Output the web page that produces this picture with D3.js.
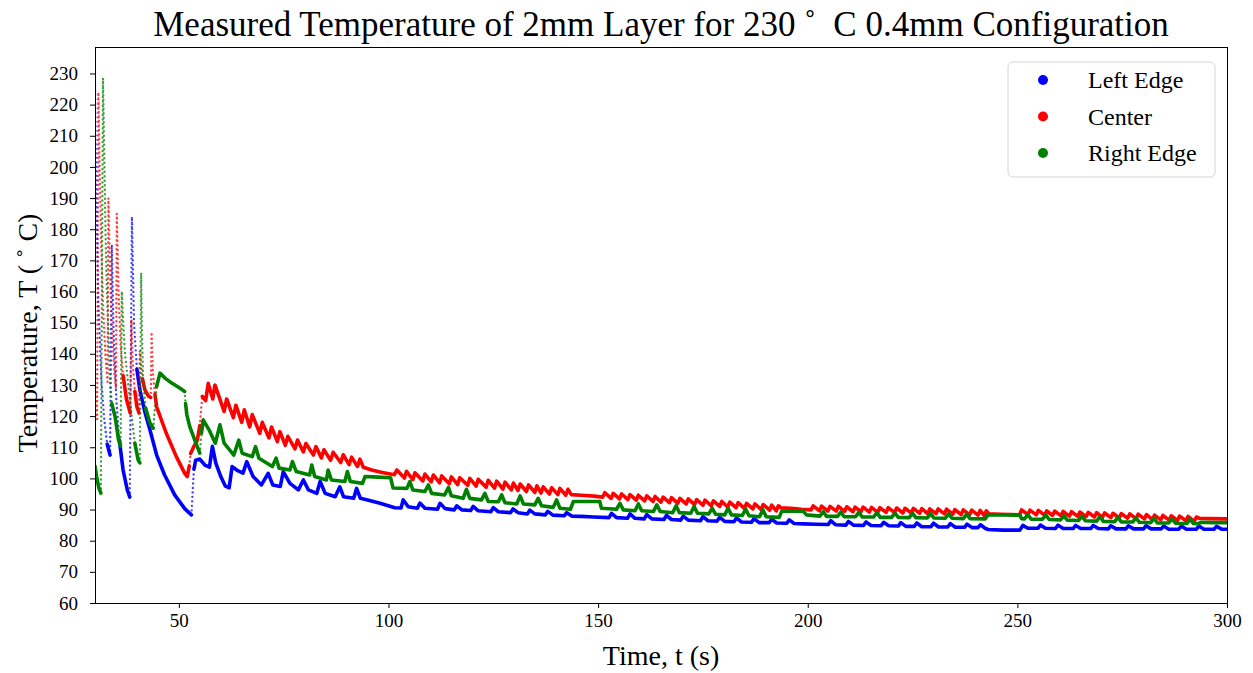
<!DOCTYPE html>
<html>
<head>
<meta charset="utf-8">
<script src="https://cdn.jsdelivr.net/npm/d3@7"></script>
<style>
  body { margin: 0; background: #fff; }
  text { font-family: "Liberation Serif", "Times New Roman", serif; fill: #000; }
</style>
</head>
<body>
<div id="vis"></div>
<script>
// [time (s), temperature (C)]
const leftEdge = [
  [30.0,227.5],[30.3,190],[30.8,157],[31.5,132],[32.2,119],[32.9,111],[33.6,107.5],
  [34.0,175],[34.4,148],[35.1,125],[35.8,112.3],[36.7,102.7],[37.7,96.3],[38.3,94],
  [38.8,184],[39.3,150],[40.0,135],[40.7,128.4],[41.9,121.3],[43.1,115.6],[44.7,107.5],[46.6,101.1],[49.0,94.7],[51.4,90.3],[53.0,88.3],
  [53.3,96],[53.6,103],[54.0,105.8],[55.0,106.2],[56.2,104.3],[57.3,103.6],[58.0,110.3],[58.8,105],[60.0,100.6],[61.1,97.5],[62.0,97],
  [62.7,103.8],[63.9,102.6],[65.3,101.7],[66.2,105.4],[67.7,100.6],[69.7,97.9],[71.3,101.6],[72.4,97.9],[74.2,97.4],[74.9,102.2],
  [76.5,98.4],[78.5,96.3],[79.7,99.5],[80.9,96.3],[82.9,95.2],[83.7,99],[84.9,95.2],[87.3,94.1],[88.4,97.3],[89.3,94.1],[91.7,93.6],[92.4,96.8],[93.3,93.6],
  [95.0,93.1],[98.0,92],[101.5,90.6],[103.0,90.5],[103.5,93.1],[104.7,90.9],[106.9,90.4],[107.5,92.1],[108.7,90.4],[111.7,90.1],[112.3,92],
  [113.5,90.3],[115.7,89.9],[116.3,91.2],[117.5,89.9],[119.6,89.7],[120.2,91],[121.4,89.6],[124.4,89.3],[125.0,90.6],[126.2,89.3],[129.1,89],
  [129.7,90.2],[130.9,89],[133.1,88.6],[133.7,89.8],[134.9,88.6],[137.4,88.3],[138.0,89.4],[139.2,88.2],[141.9,88],[142.5,89],[143.7,87.9],
  [146,87.8],[149,87.6],[152.6,87.4],[153.2,88.8],[154.4,87.4],[157.0,87.2],[157.6,88.6],[158.8,87.2],[161.0,87.0],[161.6,88.4],[162.8,87.0],
  [165.7,86.8],[166.3,88.1],[167.5,86.8],[169.7,86.6],[170.3,87.9],[171.5,86.6],[174.4,86.4],[175.0,87.7],[176.2,86.4],[178.4,86.3],[179.0,87.5],
  [180.2,86.2],[182.4,86.1],[183.0,87.3],[184.2,86.0],[186.6,85.9],[187.2,87.1],[188.4,85.8],[190.8,85.8],[191.4,86.9],[192.6,85.7],[195.0,85.6],
  [195.6,86.7],[196.8,85.5],[199,85.4],[202,85.3],[204.9,85.2],[205.5,86.4],[206.7,85.1],[209.1,85.0],[209.7,86.2],[210.9,85.0],[213.3,84.9],
  [213.9,86.0],[215.1,84.9],[217.5,84.8],[218.1,85.9],[219.3,84.8],[221.6,84.7],[222.2,85.8],[223.4,84.6],[225.4,84.6],[226.0,85.7],[227.2,84.5],
  [229.4,84.5],[230.0,85.6],[231.2,84.4],[233.4,84.4],[234.0,85.5],[235.2,84.3],[237.4,84.3],[238.0,85.3],[239.2,84.2],[240.6,84.2],[241.2,85.1],
  [242.3,84.0],[243.0,83.6],[246.5,83.4],[250.6,83.4],[251.3,84.9],[252.5,84.0],[254.9,84.0],[255.5,85.0],[256.7,84.0],[259.1,83.9],[259.7,85.0],
  [260.9,83.9],[263.3,83.9],[263.9,84.9],[265.1,83.9],[267.5,83.9],[268.1,84.9],[269.3,83.9],[271.7,83.8],[272.3,84.8],[273.5,83.8],[275.9,83.8],
  [276.5,84.8],[277.7,83.8],[280.1,83.8],[280.7,84.8],[281.9,83.8],[284.3,83.8],[284.9,84.7],[286.1,83.7],[288.5,83.7],[289.1,84.7],[290.3,83.7],
  [292.7,83.7],[293.3,84.7],[294.5,83.7],[296.9,83.7],[297.5,84.6],[298.7,83.7],[300,83.7]
];

const center = [
  [30.0,129],[30.2,125],[30.5,119],[30.8,224],[31.1,200],[31.5,174],[32.0,153],[32.5,139],[33.0,131],
  [33.2,190],[33.6,166],[34.1,146],[34.6,134],[35.0,129],
  [35.2,185],[35.6,161],[36.1,143],[36.7,133],[37.5,125.5],[38.4,121],
  [38.7,151],[39.0,137],[39.5,128],[40.0,123],[40.5,121],
  [40.7,141],[41.3,132],[41.9,128.4],[42.7,126.5],[43.3,126],
  [43.5,147],[43.8,134],[44.3,127],[44.7,123],[47.0,114.5],[49.4,107],[51.4,101.6],[52.0,100.6],
  [52.5,104],[52.8,108],[53.6,110.3],[54.4,112.3],[55.0,117],[55.3,122],[55.6,126.3],
  [56.4,125],[57.0,130.5],[58.1,125.5],[58.6,130],[60.8,121.5],[61.4,125.5],[63.0,119.5],[63.6,123.5],[65.0,118],[65.6,122],
  [66.9,116.5],[67.5,120.5],[69.3,114.5],[69.9,118],[71.5,113],[72.1,116.5],[73.5,111.8],[74.1,115],[75.4,110.6],[76.0,113.5],
  [77.7,109.5],[78.3,112.3],[79.7,108.5],[80.3,111.2],[82.1,107.5],[82.7,110.2],[84.0,106.6],[84.6,109.2],[86.2,105.8],[86.8,108.4],
  [88.6,105.1],[89.2,107.6],[90.6,104.4],[91.2,106.8],[92.6,103.8],[93.2,106.2],
  [94.0,103.6],[96.0,102.7],[98.5,101.9],[101.4,101.2],
  [102.0,102.7],[103.8,100.1],[104.3,102.3],[105.8,99.6],[106.3,101.8],[108.2,99.2],[108.7,101.4],[110.2,98.9],[110.7,101.1],
  [112.2,98.6],[112.7,100.8],[114.5,98.3],[115.0,100.5],[116.5,98.0],[117.0,100.2],[118.9,97.8],[119.4,100.0],[120.9,97.5],[121.4,99.7],
  [123.3,97.2],[123.8,99.4],[125.3,96.9],[125.8,99.1],[127.3,96.6],[127.8,98.8],[129.3,96.3],[129.8,98.5],[130.9,96.1],[131.4,98.2],
  [132.9,95.8],[133.4,97.9],[134.9,95.5],[135.4,97.6],[136.4,95.3],[136.9,97.3],[138.4,95.0],[138.9,97.0],[140.4,94.8],[140.9,96.8],
  [142.3,94.6],[142.8,96.5],
  [143.6,94.8],[146,94.6],[149,94.3],[151.1,94.0],
  [151.6,95.4],[153.1,93.6],[153.6,95.2],[155.1,93.4],[155.6,95.0],[157.1,93.2],[157.6,94.8],[159.1,93.0],[159.6,94.6],[161.1,92.8],
  [161.6,94.4],[163.1,92.6],[163.6,94.2],[165.0,92.4],[165.5,94.0],[167.0,92.2],[167.5,93.8],[169.0,92.0],[169.5,93.6],[171.0,91.8],
  [171.5,93.4],[173.0,91.6],[173.5,93.2],[175.0,91.4],[175.5,93.0],[177.0,91.2],[177.5,92.8],[179.0,91.0],[179.5,92.6],[180.9,90.8],
  [181.4,92.4],[182.9,90.6],[183.4,92.2],[184.9,90.4],[185.4,92.0],[186.9,90.2],[187.4,91.8],[188.9,90.0],[189.4,91.6],[190.9,89.8],
  [191.4,91.4],[192.5,89.6],[193.0,91.2],
  [193.6,90.6],[196,90.4],[198.5,90.1],[200.8,89.9],
  [201.3,91.2],[202.8,89.6],[203.3,91.1],[204.8,89.5],[205.3,91.0],[206.8,89.5],[207.3,91.0],[208.8,89.4],[209.3,90.9],[210.8,89.3],
  [211.3,90.8],[212.7,89.3],[213.2,90.8],[214.7,89.2],[215.2,90.7],[216.7,89.1],[217.2,90.6],[218.7,89.1],[219.2,90.6],[220.7,89.0],
  [221.2,90.5],[222.7,88.9],[223.2,90.4],[224.7,88.9],[225.2,90.4],[226.7,88.8],[227.2,90.3],[228.6,88.7],[229.1,90.2],[230.6,88.7],
  [231.1,90.2],[232.6,88.6],[233.1,90.1],[234.6,88.5],[235.1,90.0],[236.6,88.4],[237.1,89.9],[238.6,88.3],[239.1,89.8],[240.6,88.2],
  [241.1,89.7],[242.1,88.1],[242.6,89.6],
  [243.2,88.6],[246,88.5],[248.5,88.4],[250.5,88.3],
  [251.0,89.9],[252.5,88.4],[253.0,89.8],[254.5,88.3],[255.0,89.7],[256.5,88.2],[257.0,89.6],[258.4,88.1],[258.9,89.5],[260.4,88.0],
  [260.9,89.4],[262.4,87.9],[262.9,89.3],[264.4,87.8],[264.9,89.2],[266.4,87.7],[266.9,89.1],[268.4,87.6],[268.9,89.0],[270.3,87.5],
  [270.8,88.9],[272.3,87.4],[272.8,88.8],[274.3,87.3],[274.8,88.7],[276.3,87.2],[276.8,88.6],[278.3,87.1],[278.8,88.5],[280.3,87.0],
  [280.8,88.4],[282.2,86.8],[282.7,88.2],[284.2,86.7],[284.7,88.1],[286.2,86.6],[286.7,88.0],[288.2,86.5],[288.7,87.9],[290.2,86.4],
  [290.7,87.8],[292.2,86.2],[292.7,87.6],
  [293.4,87.2],[296,87.1],[300,87.0]
];

const rightEdge = [
  [30.0,104],[30.4,100.5],[30.9,97],[31.4,95.3],
  [31.9,228.5],[32.2,205],[32.5,180],[32.8,162],[33.2,147],[33.6,131],[34.0,124],[34.8,119.8],[35.6,112.5],[36.1,110.4],
  [36.4,160],[36.7,151],[37.1,141],[38.3,125.2],[39.5,111.3],[40.3,105.9],[40.7,105],
  [41.0,166],[41.2,146],[41.5,131],[42.1,122.5],[43.1,117.8],[43.9,116.1],
  [44.7,129.5],[45.5,133.8],[46.7,132.2],[48.3,130.6],[50.2,129],[51.4,127.9],[51.6,124],[51.9,120.5],[52.6,116.6],[53.8,112.3],[55.0,108.1],
  [55.4,114.5],[55.8,118.8],[57.2,115.6],[58.7,111.3],[59.8,117.2],[60.8,111.3],[63.1,107.5],[64.3,112.3],[65.1,108.1],[67.5,107],
  [68.3,110.2],[69.1,106.5],[72.3,103.8],[73.2,106.5],[73.9,103.3],[76.5,102.7],[77.1,105.4],[78.0,102.2],[81.2,101.1],[81.7,104.3],
  [82.4,100.6],[85.2,99.5],[85.6,102.7],[86.4,99.5],[89.6,99],[90.2,102.2],[90.9,99],[93.8,98.4],
  [94.4,100.6],[97.5,100.4],[100.5,100.2],[101.1,96.9],[104.4,96.8],
  [105.1,99],[105.8,96.3],[108.7,95.8],[109.5,97.9],[110.3,95.2],[113.4,94.7],[114.3,97.1],[115.0,94.4],[117.8,93.6],[118.6,96.5],
  [119.4,93.6],[122.2,93.1],[123.0,95.2],[123.8,92.6],[126.2,92.5],[127.0,94.7],[127.8,92.2],[130.6,91.8],[131.4,94.4],[132.2,91.8],
  [134.9,91.5],[135.7,93.6],[136.5,91.2],[139.3,90.7],[140.1,93.1],[140.9,90.4],[143.4,90.1],
  [144.1,92.6],[147.5,92.6],[150.4,92.6],[150.8,90.4],[154.4,90.1],
  [155.2,92],[156.0,89.9],[158.8,89.6],[159.6,91.8],[160.4,89.6],[163.2,89.4],[164.0,91.5],[164.8,89.4],[167.8,89.0],[168.6,91.2],
  [169.4,89.0],[172.1,88.8],[172.9,91],[173.7,88.8],[176.4,88.6],[177.2,90.4],[178.0,88.5],[180.2,88.3],[181.0,90.4],[181.8,88.3],
  [184.4,88.1],[185.2,90.1],[186.0,88.0],[188.5,87.7],[189.3,89.9],[190.1,87.7],[193.2,87.5],
  [193.8,89.5],[196.5,89.5],[198.9,89.5],[199.7,88.3],[202.9,87.9],
  [203.7,89.3],[204.5,87.8],[207.1,87.8],[207.9,89.2],[208.7,87.7],[211.4,87.7],[212.2,89.1],[213.0,87.6],[215.7,87.6],[216.5,89.0],
  [217.3,87.5],[220.0,87.5],[220.8,88.9],[221.6,87.5],[224.2,87.4],[225.0,88.8],[225.8,87.4],[228.5,87.3],[229.3,88.7],[230.1,87.3],
  [232.8,87.2],[233.6,88.6],[234.4,87.2],[237.1,87.1],[237.9,88.5],[238.7,87.1],[242.3,87.0],
  [243.0,88.3],[247.0,88.3],[250.6,88.2],[251.0,87.1],[251.7,87.0],
  [252.5,88.4],[253.3,86.9],[256.0,86.9],[256.8,88.2],[257.6,86.8],[260.3,86.7],[261.1,88.0],[261.9,86.6],[264.6,86.5],[265.4,87.9],
  [266.2,86.4],[268.9,86.3],[269.7,87.7],[270.5,86.2],[273.2,86.1],[274.0,87.5],[274.8,86.0],[277.5,86.0],[278.3,87.3],[279.1,85.9],
  [281.8,85.8],[282.6,87.2],[283.4,85.7],[286.1,85.7],[286.9,87.0],[287.7,85.6],[290.4,85.5],[291.2,86.9],[292.0,85.5],[293.2,85.4],
  [293.6,85.9],[297,85.8],[300,85.8]
];

const seriesNames = ['Left Edge', 'Center', 'Right Edge'];
const seriesColours = ['#0000ff', '#ff0000', '#008000'];
const xTickValues = [50, 100, 150, 200, 250, 300];
const yTickValues = [60, 70, 80, 90, 100, 110, 120, 130, 140, 150, 160, 170, 180, 190, 200, 210, 220, 230];

const width = 1253, height = 673;
const margin = { top: 47, right: 26, bottom: 70, left: 95 };
const plotW = width - margin.left - margin.right;
const plotH = height - margin.top - margin.bottom;

const $svg = d3.select('#vis').append('svg')
  .attr('width', width)
  .attr('height', height);

const $plot = $svg.append('g')
  .attr('transform', `translate(${margin.left}, ${margin.top})`);

const x = d3.scaleLinear().domain([30, 300]).range([0, plotW]);
const y = d3.scaleLinear().domain([60, 238.5]).range([plotH, 0]);

$svg.append('defs').append('clipPath').attr('id', 'clip')
  .append('rect').attr('width', plotW).attr('height', plotH);

// axes
const xAxis = d3.axisBottom(x).tickValues(xTickValues).tickSize(5).tickPadding(6);
const yAxis = d3.axisLeft(y).tickValues(yTickValues).tickSize(5).tickPadding(12);

$plot.append('g')
  .attr('class', 'axis x')
  .attr('transform', `translate(0, ${plotH})`)
  .call(xAxis)
  .call(g => g.select('.domain').remove())
  .call(g => g.selectAll('text').attr('font-size', 19).attr('font-family', '"Liberation Serif", serif'));

$plot.append('g')
  .attr('class', 'axis y')
  .call(yAxis)
  .call(g => g.select('.domain').remove())
  .call(g => g.selectAll('text').attr('font-size', 19).attr('font-family', '"Liberation Serif", serif'));

// series: steep sparse stretches are drawn as dots, dense stretches as a thick trace
const line = d3.line()
  .x(d => x(d[0]))
  .y(d => y(d[1]));

const $lines = $plot.append('g').attr('clip-path', 'url(#clip)');

[leftEdge, center, rightEdge].forEach((pts, si) => {
  const runs = [];
  let cur = null;
  for (let i = 1; i < pts.length; i++) {
    const dx = Math.abs(x(pts[i][0]) - x(pts[i - 1][0]));
    const dy = Math.abs(y(pts[i][1]) - y(pts[i - 1][1]));
    const steep = dy > 8 * dx && dy > 11;
    if (!cur || cur.steep !== steep) {
      cur = { steep, pts: [pts[i - 1]] };
      runs.push(cur);
    }
    cur.pts.push(pts[i]);
  }

  $lines.append('g')
    .attr('class', 'series')
    .selectAll('path')
    .data(runs)
    .enter()
    .append('path')
    .attr('d', d => line(d.pts))
    .attr('fill', 'none')
    .attr('stroke', seriesColours[si])
    .attr('stroke-linecap', 'round')
    .attr('stroke-linejoin', 'round')
    .attr('stroke-width', d => d.steep ? 2.4 : 3.6)
    .attr('stroke-dasharray', d => d.steep ? '0 4.5' : null)
    .attr('opacity', d => d.steep ? 0.75 : 1);
});

// frame
$plot.append('rect')
  .attr('width', plotW)
  .attr('height', plotH)
  .attr('fill', 'none')
  .attr('stroke', '#000')
  .attr('stroke-width', 1)
  .attr('shape-rendering', 'crispEdges');

// legend
const $legend = $svg.append('g').attr('transform', 'translate(1008, 62)');
$legend.append('rect')
  .attr('width', 207).attr('height', 115).attr('rx', 5)
  .attr('fill', '#fff').attr('fill-opacity', 0.8)
  .attr('stroke', '#d4d4d4');

const $items = $legend.selectAll('.item')
  .data(seriesNames)
  .enter()
  .append('g')
  .attr('class', 'item')
  .attr('transform', (d, i) => `translate(0, ${18 + i * 36.5})`);

$items.append('circle')
  .attr('cx', 35).attr('r', 5)
  .attr('fill', (d, i) => seriesColours[i]);

$items.append('text')
  .attr('x', 80).attr('y', 8)
  .attr('font-size', 24)
  .text(d => d);

// titles
$svg.append('text')
  .attr('x', margin.left + plotW / 2)
  .attr('y', 36)
  .attr('text-anchor', 'middle')
  .attr('font-size', 35)
  .text('Measured Temperature of 2mm Layer for 230\u00a0\u02da\u00a0\u00a0C 0.4mm Configuration');

$svg.append('text')
  .attr('x', margin.left + plotW / 2)
  .attr('y', 665)
  .attr('text-anchor', 'middle')
  .attr('font-size', 28)
  .text('Time, t (s)');

$svg.append('text')
  .attr('transform', `translate(37, ${margin.top + plotH / 2 + 8}) rotate(-90)`)
  .attr('text-anchor', 'middle')
  .attr('font-size', 28)
  .text('Temperature, T (\u00a0\u02da\u00a0C)');
</script>
</body>
</html>
